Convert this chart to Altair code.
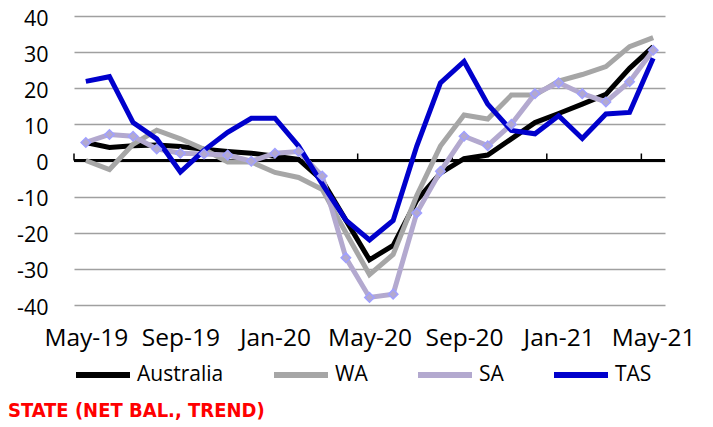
import json
import altair as alt
import pandas as pd

months = ["May-19", "Jun-19", "Jul-19", "Aug-19", "Sep-19", "Oct-19", "Nov-19", "Dec-19",
          "Jan-20", "Feb-20", "Mar-20", "Apr-20", "May-20", "Jun-20", "Jul-20", "Aug-20",
          "Sep-20", "Oct-20", "Nov-20", "Dec-20", "Jan-21", "Feb-21", "Mar-21", "Apr-21", "May-21"]

australia = [5.0, 3.6, 4.1, 4.3, 3.9, 3.1, 2.5, 2.0, 1.2, 0.3, -5.5, -16.5, -27.5, -23.5, -11.0,
             -3.5, 0.5, 1.5, 6.0, 10.5, 13.0, 15.6, 18.3, 25.5, 31.5]
wa = [0.0, -2.5, 4.5, 8.4, 6.0, 3.1, -0.4, -0.4, -3.3, -4.7, -8.0, -20.0, -31.6, -26.0, -9.7,
      4.0, 12.6, 11.5, 18.1, 18.1, 22.0, 23.8, 26.0, 31.5, 34.0]
sa = [5.0, 7.2, 6.7, 3.2, 2.0, 1.8, 1.5, -0.2, 2.0, 2.5, -4.3, -26.9, -37.9, -37.0, -14.5,
      -3.0, 6.7, 4.1, 10.0, 18.5, 21.5, 18.5, 16.2, 21.8, 30.5]
tas = [21.9, 23.2, 10.5, 6.0, -3.2, 2.8, 7.8, 11.7, 11.7, 4.0, -6.5, -16.5, -22.0, -16.6, 4.0,
       21.5, 27.4, 15.6, 8.3, 7.4, 12.4, 6.1, 12.9, 13.3, 28.3]

series_names = ["Australia", "WA", "SA", "TAS"]
series_values = [australia, wa, sa, tas]
series_colors = ["#000000", "#A6A6A6", "#B3A9CF", "#0000CC"]
label_months = ["May-19", "Sep-19", "Jan-20", "May-20", "Sep-20", "Jan-21", "May-21"]
y_ticks = [-40, -30, -20, -10, 0, 10, 20, 30, 40]
chart_title = "STATE (NET BAL., TREND)"

rows = []
for name, vals in zip(series_names, series_values):
    for i, v in enumerate(vals):
        rows.append({"idx": i, "month": months[i], "series": name, "value": v})
df = pd.DataFrame(rows)

label_idx = [months.index(m) for m in label_months]
boundaries = pd.DataFrame({"b": [k - 0.5 for k in label_idx]})

FONT = "Open Sans"
W, H = 591, 289
PAD_TOP = 8

x_scale = alt.Scale(domain=[-0.5, len(months) - 0.5], nice=False, zero=False)
y_scale = alt.Scale(domain=[-40, 40], nice=False)

label_expr = json.dumps(months) + "[datum.value]"

x_axis = alt.Axis(values=label_idx, labelExpr=label_expr, title=None, grid=False,
                  domain=False, ticks=False, labelFontSize=24.5, labelFont=FONT,
                  labelColor="#000000", labelPadding=21, labelOverlap=False,
                  labelFlush=False)
y_axis = alt.Axis(values=y_ticks, title=None, grid=True, gridColor="#A0A0A0",
                  gridWidth=1.5, domain=False, ticks=False, labelFontSize=21.5,
                  labelFont=FONT, labelColor="#000000", labelPadding=26,
                  labelOverlap=False, labelFlush=False, labelBound=False, labelOffset=3,
                  labelExpr="datum.value < 0 ? '-' + abs(datum.value) : '' + datum.value")

color = alt.Color(
    "series:N",
    scale=alt.Scale(domain=series_names, range=series_colors),
    sort=series_names,
    legend=alt.Legend(
        title=None, orient="none", direction="horizontal", legendX=-1, legendY=329,
        symbolType="stroke", symbolStrokeWidth=6, symbolSize=2916, labelFontSize=21,
        labelFont=FONT, labelColor="#000000", columnPadding=38, labelOffset=4,
    ),
)

lines = alt.Chart(df).mark_line(strokeWidth=5, strokeJoin="miter").encode(
    x=alt.X("idx:Q", scale=x_scale, axis=x_axis),
    y=alt.Y("value:Q", scale=y_scale, axis=y_axis),
    color=color,
    order=alt.Order("idx:Q"),
    detail="series:N",
)

zero = alt.Chart(boundaries).mark_rule(color="#000000", strokeWidth=2).encode(
    x=alt.value(0), x2=alt.value(W), y=alt.value(H / 2)
)

ticks = alt.Chart(boundaries).mark_rule(color="#000000", strokeWidth=1.5).encode(
    x=alt.X("b:Q", scale=x_scale, axis=x_axis),
    y=alt.value(H / 2),
    y2=alt.value(H / 2 - 7),
)

sa_points = alt.Chart(df[df["series"] == "SA"]).mark_point(
    shape="diamond", filled=True, size=90, fill="#B3A9CF", stroke="#A0A0FF", strokeWidth=1.5, opacity=1
).encode(
    x=alt.X("idx:Q", scale=x_scale, axis=x_axis),
    y=alt.Y("value:Q", scale=y_scale, axis=y_axis),
)

title = alt.Chart(pd.DataFrame({"t": [chart_title]})).mark_text(
    align="left", baseline="middle", font="DejaVu Sans Condensed", fontWeight="bold",
    fontSize=20, color="#FF0000"
).encode(text="t:N", x=alt.value(-66), y=alt.value(410.5 - 8 - PAD_TOP))

chart = alt.layer(zero, ticks, lines, sa_points, title).properties(
    width=W, height=H,
    autosize=alt.AutoSizeParams(type="none"),
    padding={"left": 66, "top": PAD_TOP, "right": 40, "bottom": 118},
).configure_view(stroke=None)

chart.save("out.html", embed_options={"renderer": "svg", "actions": False})
